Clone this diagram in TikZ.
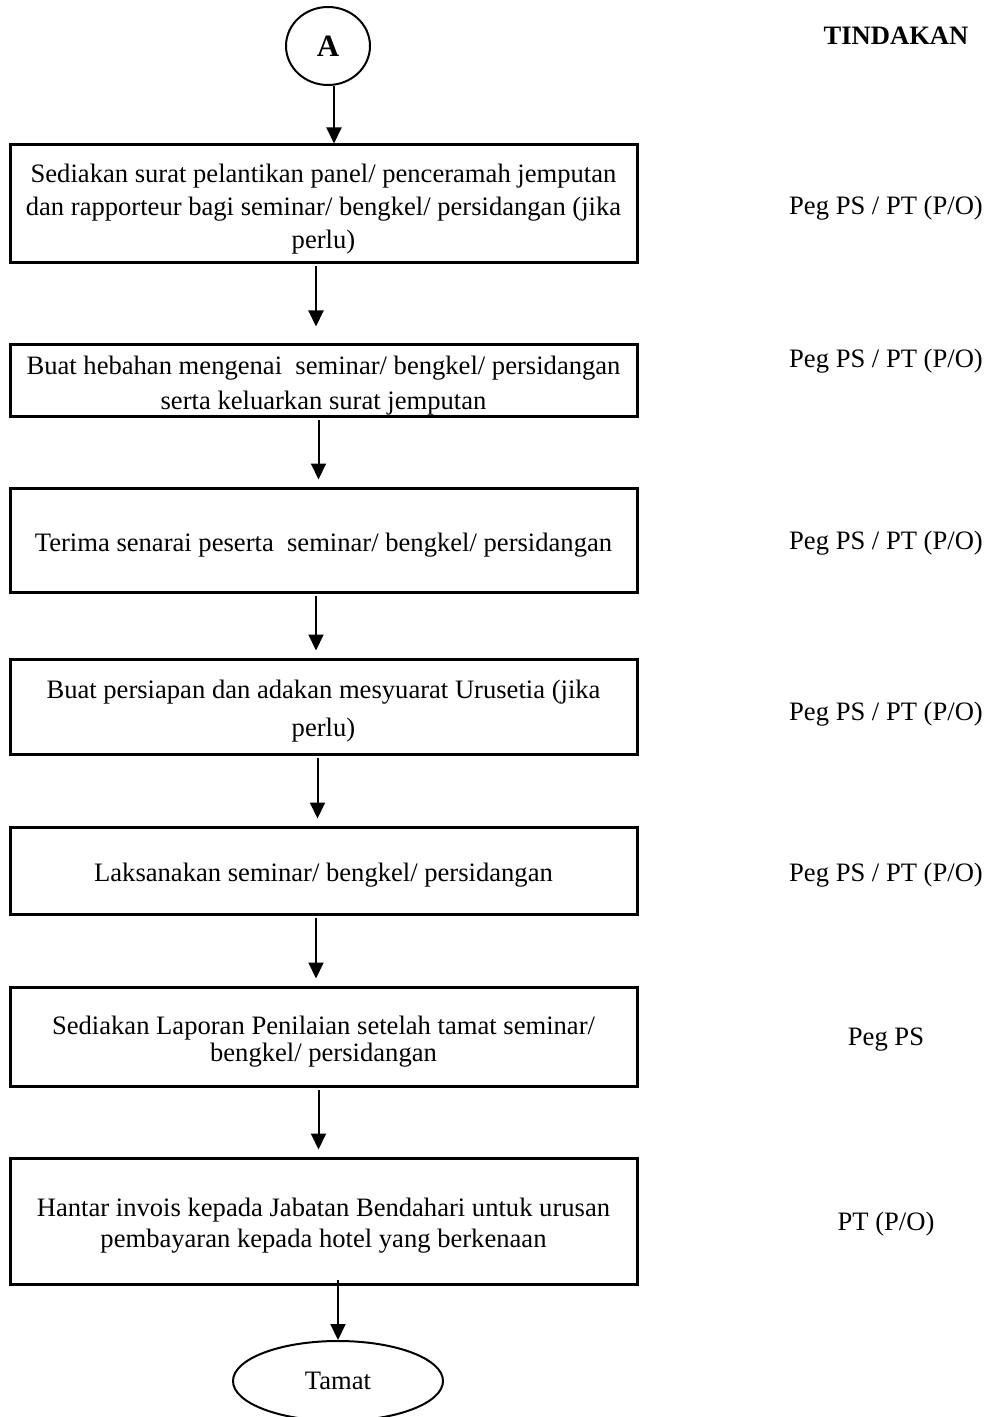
\documentclass[tikz,border=0pt]{standalone}
\usepackage{fontspec}
\setmainfont{Liberation Serif}
\usetikzlibrary{arrows.meta,shapes.geometric}
\begin{document}
\begin{tikzpicture}[x=0.5pt,y=-0.5pt,
  every node/.style={font=\fontsize{13.3}{16.5}\selectfont},
  stepbox/.style={draw, line width=1.5pt, minimum width=313.5pt, minimum height=#1, inner sep=0pt},
  boxtext/.style={align=center, inner sep=0pt, yshift=-2.5pt},
  oval/.style={draw, ellipse, line width=1pt, inner sep=0pt},
  flow/.style={line width=1pt, -{Triangle[length=8pt,width=7.5pt]}},
  actor/.style={anchor=center, yshift=-1.5pt}
]
\useasboundingbox (0,0) rectangle (990,1417);

\node[oval, minimum width=42pt, minimum height=39pt, font=\fontsize{15.5}{18}\selectfont\bfseries] (A) at (328,46) {A};
\node[actor, font=\fontsize{13.3}{16.5}\selectfont\bfseries] (hdr) at (896,33) {TINDAKAN};

\node[stepbox=59pt, label={[boxtext]center:{Sediakan surat pelantikan panel/ penceramah jemputan\\ dan rapporteur bagi seminar/ bengkel/ persidangan (jika\\ perlu)}}] (b1) at (323.5,204) {};
\node[stepbox=35.5pt, label={[boxtext]center:{Buat hebahan mengenai \ seminar/ bengkel/ persidangan\\[1pt] serta keluarkan surat jemputan}}] (b2) at (323.5,380.5) {};
\node[stepbox=52pt, label={[boxtext]center:{Terima senarai peserta \ seminar/ bengkel/ persidangan}}] (b3) at (323.5,540) {};
\node[stepbox=47.5pt, label={[boxtext]center:{Buat persiapan dan adakan mesyuarat Urusetia (jika\\[2.5pt] perlu)}}] (b4) at (323.5,706.5) {};
\node[stepbox=43.5pt, label={[boxtext]center:{Laksanakan seminar/ bengkel/ persidangan}}] (b5) at (323.5,870.5) {};
\node[stepbox=49.5pt, label={[boxtext]center:{Sediakan Laporan Penilaian setelah tamat seminar/\\[-3pt] bengkel/ persidangan}}] (b6) at (323.5,1036.5) {};
\node[stepbox=63pt, label={[boxtext]center:{Hantar invois kepada Jabatan Bendahari untuk urusan\\[-1pt] pembayaran kepada hotel yang berkenaan}}] (b7) at (323.5,1221) {};
\node[oval, minimum width=105pt, minimum height=40pt] (end) at (338,1381) {Tamat};

\node[actor] (r1) at (886,205) {Peg PS / PT (P/O)};
\node[actor] (r2) at (886,358) {Peg PS / PT (P/O)};
\node[actor] (r3) at (886,540) {Peg PS / PT (P/O)};
\node[actor] (r4) at (886,711) {Peg PS / PT (P/O)};
\node[actor] (r5) at (886,872) {Peg PS / PT (P/O)};
\node[actor] (r6) at (886,1037) {Peg PS};
\node[actor] (r7) at (886,1221) {PT (P/O)};

\draw[flow] ([xshift=3pt]A.south) -- ([xshift=5.25pt]b1.north);
\draw[flow] ([xshift=-3.75pt,yshift=-1pt]b1.south) -- ([xshift=-3.75pt,yshift=8.5pt]b2.north);
\draw[flow] ([xshift=-2.5pt,yshift=-1pt]b2.south) -- ([xshift=-2.5pt,yshift=3.5pt]b3.north);
\draw[flow] ([xshift=-3.75pt,yshift=-1pt]b3.south) -- ([xshift=-3.75pt,yshift=3.5pt]b4.north);
\draw[flow] ([xshift=-3pt,yshift=-1pt]b4.south) -- ([xshift=-3pt,yshift=3.5pt]b5.north);
\draw[flow] ([xshift=-3.75pt,yshift=-1pt]b5.south) -- ([xshift=-3.75pt,yshift=3.5pt]b6.north);
\draw[flow] ([xshift=-2.5pt,yshift=-1pt]b6.south) -- ([xshift=-2.5pt,yshift=3.5pt]b7.north);
\draw[flow] ([xshift=7.25pt,yshift=3pt]b7.south) -- (end.north);
\end{tikzpicture}
\end{document}
